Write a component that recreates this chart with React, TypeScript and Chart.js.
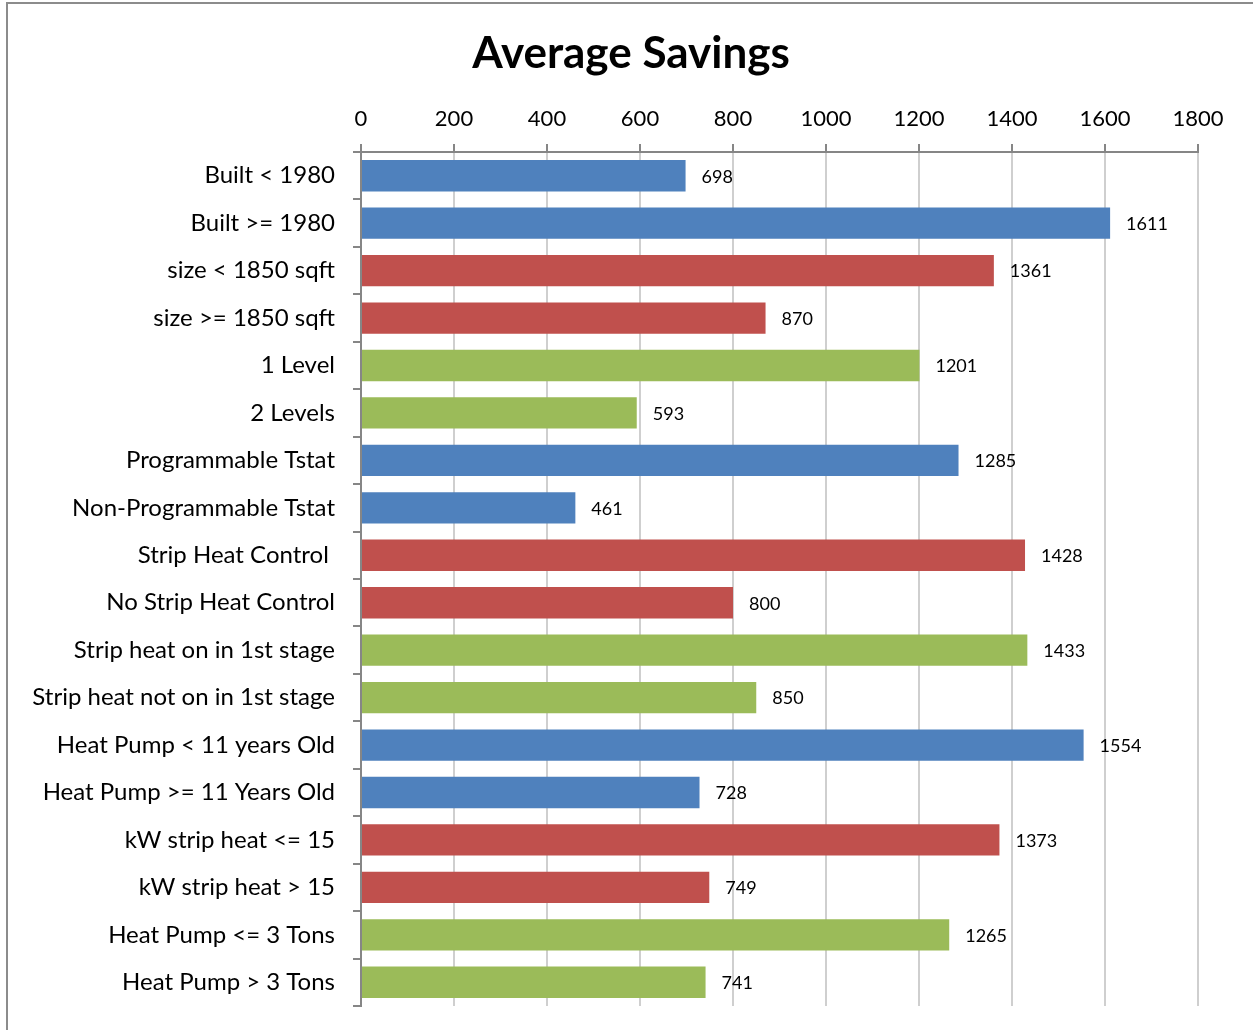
import React, { useEffect, useRef } from "react";
import { Chart, registerables } from "chart.js";

Chart.register(...registerables);

const chartTitle = "Average Savings";

const categories = [
  "Built < 1980",
  "Built >= 1980",
  "size < 1850 sqft",
  "size >= 1850 sqft",
  "1 Level",
  "2 Levels",
  "Programmable Tstat",
  "Non-Programmable Tstat",
  "Strip Heat Control ",
  "No Strip Heat Control",
  "Strip heat on in 1st stage",
  "Strip heat not on in 1st stage",
  "Heat Pump < 11 years Old",
  "Heat Pump >= 11 Years Old",
  "kW strip heat <= 15",
  "kW strip heat > 15",
  "Heat Pump <= 3 Tons",
  "Heat Pump > 3 Tons",
];

const savings = [698, 1611, 1361, 870, 1201, 593, 1285, 461, 1428, 800, 1433, 850, 1554, 728, 1373, 749, 1265, 741];

const groupColors = ["#4F81BD", "#4F81BD", "#C0504D", "#C0504D", "#9BBB59", "#9BBB59"];

const FONT = "Lato, 'Open Sans', sans-serif";

const valueLabels = {
  id: "valueLabels",
  afterDatasetsDraw(chart: any) {
    const ctx = chart.ctx;
    const meta = chart.getDatasetMeta(0);
    ctx.save();
    ctx.font = `18px ${FONT}`;
    ctx.fillStyle = "#000";
    ctx.textAlign = "left";
    ctx.textBaseline = "middle";
    meta.data.forEach((bar: any, i: number) => {
      ctx.fillText(String(savings[i]), bar.x + 16, bar.y + 1);
    });
    ctx.restore();
  },
};

const titlePlugin = {
  id: "customTitle",
  afterDraw(chart: any) {
    const ctx = chart.ctx;
    ctx.save();
    ctx.font = `bold 44px ${FONT}`;
    ctx.fillStyle = "#000";
    ctx.textAlign = "center";
    ctx.textBaseline = "middle";
    ctx.fillText(chartTitle, 631, 54);
    ctx.restore();
  },
};

export default function App() {
  const ref = useRef<HTMLCanvasElement | null>(null);
  useEffect(() => {
    if (!ref.current) return;
    const chart = new Chart(ref.current, {
      type: "bar",
      data: {
        labels: categories,
        datasets: [
          {
            data: savings,
            backgroundColor: savings.map((_, i) => groupColors[i % 6]),
            barPercentage: 1,
            categoryPercentage: 0.66,
          },
        ],
      },
      plugins: [valueLabels, titlePlugin],
      options: {
        indexAxis: "y",
        animation: false,
        responsive: false,
        maintainAspectRatio: false,
        layout: { padding: { left: 0, right: 55, top: 78, bottom: 24 } },
        plugins: {
          legend: { display: false },
          tooltip: { enabled: false },
          title: { display: false },
        },
        scales: {
          x: {
            position: "top",
            min: 0,
            max: 1800,
            ticks: {
              stepSize: 200,
              color: "#000",
              font: { family: FONT, size: 22 },
              padding: 12,
              callback: (v: any) => String(v),
            },
            grid: {
              color: "#cfcfcf",
              lineWidth: 2,
              tickColor: "#868686",
              tickLength: 8,
            },
            border: { display: true, color: "#868686", width: 2 },
            afterFit(scale: any) {
              scale.height = 74;
            },
          },
          y: {
            ticks: {
              color: "#000",
              font: { family: FONT, size: 24 },
              padding: 18,
              autoSkip: false,
            },
            grid: {
              offset: true,
              drawOnChartArea: false,
              tickColor: "#868686",
              tickLength: 8,
              lineWidth: 2,
            },
            border: { display: true, color: "#868686", width: 2 },
            afterFit(scale: any) {
              scale.width = 361;
              scale.paddingTop = 0;
              scale.paddingBottom = 0;
            },
          },
        },
      },
    } as any);
    return () => chart.destroy();
  }, []);

  return (
    <div style={{ position: "fixed", left: 0, top: 0, width: 1253, height: 1030, overflow: "hidden", background: "#fff" }}>
      <div
        style={{
          position: "absolute",
          left: 6,
          top: 2,
          width: 1400,
          height: 1200,
          border: "2px solid #8c8c8c",
          boxSizing: "border-box",
        }}
      />
      <canvas ref={ref} width={1253} height={1030} style={{ position: "absolute", left: 0, top: 0 }} />
    </div>
  );
}
